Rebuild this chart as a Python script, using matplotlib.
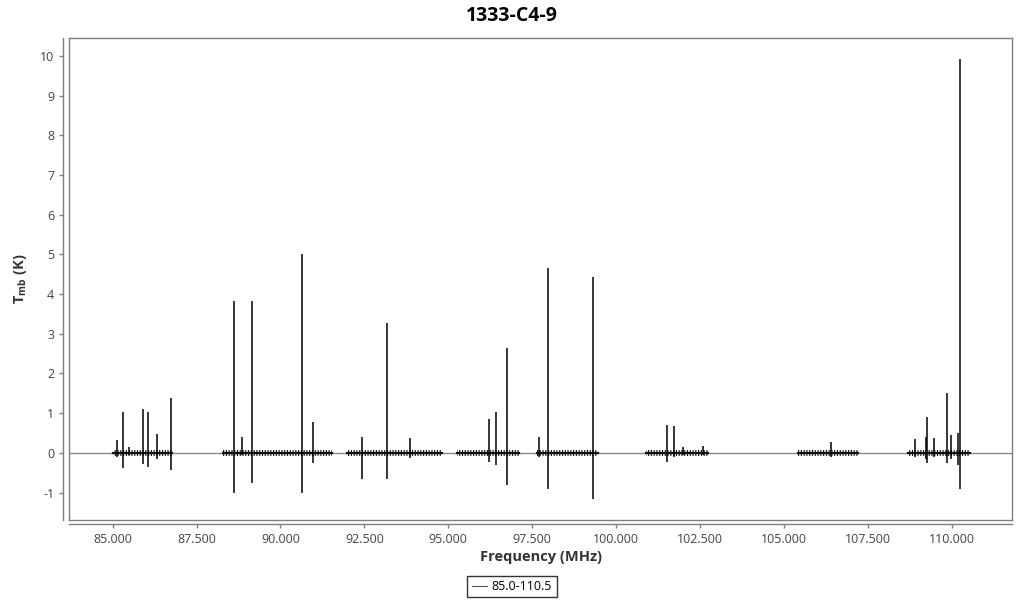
import matplotlib
matplotlib.use('Agg')
from matplotlib import pyplot as plt
from matplotlib.ticker import FormatStrFormatter, MultipleLocator

plt.rcParams['font.family'] = ['Open Sans', 'DejaVu Sans']
plt.rcParams['axes.unicode_minus'] = False
plt.rcParams['hatch.linewidth'] = 0.8
plt.rcParams['hatch.color'] = '#111111'

# observed band segments (MHz)
seg_start = [85.0, 88.29, 91.98, 95.26, 97.65, 100.90, 105.43, 108.71]
seg_end = [86.77, 91.54, 94.81, 97.11, 99.47, 102.75, 107.22, 110.56]

# line peaks: frequency (MHz), top and bottom of the spike (K)
line_freq = [85.12, 85.32, 85.49, 85.91, 86.06, 86.32, 86.74,
             88.62, 88.86, 89.16, 90.64, 90.97,
             92.43, 93.18, 93.86,
             96.22, 96.43, 96.76,
             97.71, 97.98, 99.32,
             101.53, 101.74, 102.01, 102.58,
             106.42,
             108.92, 109.25, 109.28, 109.49, 109.85, 109.97, 110.20, 110.26]
line_top = [0.32, 1.03, 0.15, 1.10, 1.03, 0.48, 1.38,
            3.82, 0.40, 3.82, 5.02, 0.78,
            0.40, 3.28, 0.38,
            0.85, 1.03, 2.65,
            0.40, 4.65, 4.43,
            0.70, 0.68, 0.15, 0.17,
            0.28,
            0.35, 0.40, 0.90, 0.38, 1.50, 0.45, 0.50, 9.92]
line_bot = [-0.10, -0.38, -0.05, -0.28, -0.35, -0.15, -0.43,
            -1.02, -0.05, -0.76, -1.02, -0.25,
            -0.66, -0.66, -0.12,
            -0.22, -0.30, -0.82,
            -0.10, -0.92, -1.15,
            -0.22, -0.10, -0.05, -0.05,
            -0.10,
            -0.10, -0.15, -0.25, -0.10, -0.25, -0.15, -0.30, -0.90]
noise_level = 0.07

fig = plt.figure(figsize=(10.24, 6), dpi=100)
ax = fig.add_axes([69 / 1024, 1 - 520 / 600, 943 / 1024, 482 / 600])

ax.axhline(0, color='#8a8a8a', lw=1, zorder=1)
for s, e in zip(seg_start, seg_end):
    ax.fill_between([s, e], [-noise_level] * 2, [noise_level] * 2,
                    facecolor='none', edgecolor='#111111', hatch='||||||',
                    linewidth=0, zorder=2)
    ax.plot([s, e], [0, 0], color='#111111', lw=1.6, zorder=2)
ax.vlines(line_freq, line_bot, line_top, color='black', lw=1.1, zorder=3)

ax.set_xlim(83.70, 111.80)
ax.set_ylim(-1.69, 10.45)
ax.xaxis.set_major_locator(MultipleLocator(2.5))
ax.xaxis.set_major_formatter(FormatStrFormatter('%.3f'))
ax.yaxis.set_major_locator(MultipleLocator(1))

for sp in ax.spines.values():
    sp.set_color('#7f7f7f')
    sp.set_linewidth(1)
ax.tick_params(axis='both', colors='#7f7f7f', labelcolor='#444444',
               labelsize=9, length=3, width=1)

# plot box edges (the real spines are pushed outward as axis lines)
ax.plot([0, 1], [0, 0], transform=ax.transAxes, color='#7f7f7f', lw=1,
        clip_on=False, zorder=4)
ax.plot([0, 0], [0, 1], transform=ax.transAxes, color='#7f7f7f', lw=1,
        clip_on=False, zorder=4)
ax.spines['bottom'].set_position(('outward', 3))
ax.spines['left'].set_position(('outward', 4))

ax.set_xlabel('Frequency (MHz)', fontsize=10.5, fontweight='bold',
              color='#333333', labelpad=3)
ax.set_ylabel(r'T$_{\mathregular{mb}}$ (K)', fontsize=10.5,
              fontweight='bold', color='#333333', labelpad=8)
fig.suptitle('1333-C4-9', fontsize=14, fontweight='bold', y=0.99)

h, = ax.plot([], [], color='#555555', lw=0.8, label='85.0-110.5')
leg = fig.legend(handles=[h], loc='lower center', bbox_to_anchor=(0.5, -0.006),
                 fontsize=9, frameon=True, fancybox=False, handlelength=1.2,
                 handletextpad=0.4, borderpad=0.35)
leg.get_frame().set_edgecolor('black')
leg.get_frame().set_linewidth(1)

fig.savefig('out.png', dpi=100)
